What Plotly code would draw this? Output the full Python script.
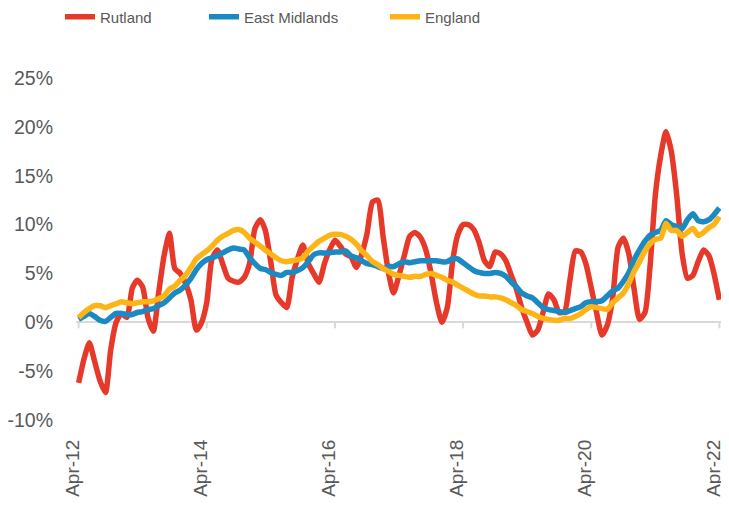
import pandas as pd
import plotly.graph_objects as go

# Monthly annual % change, Apr-2012 .. Apr-2022
months = pd.date_range("2012-04-01", periods=121, freq="MS")

rutland = [
    -6.2, -3.8, -2.1, -4.0, -6.0, -7.2, -2.8, 0.0, 0.9, 0.5,
    3.5, 4.3, 3.6, 0.5, -0.9, 3.0, 6.8, 9.1, 5.5, 5.0,
    4.0, 2.3, -0.8, -0.1, 2.0, 6.5, 7.4, 6.0, 4.5, 4.2,
    4.1, 4.6, 6.0, 9.6, 10.5, 9.4, 6.2, 2.8, 2.0, 1.5,
    4.6, 6.5, 7.9, 6.0, 5.0, 4.1, 6.0, 7.4, 8.4, 7.8,
    7.0, 6.7, 5.6, 7.0, 9.1, 12.3, 12.5, 8.7, 5.0, 3.0,
    4.8, 6.8, 8.8, 9.2, 8.7, 7.4, 5.0, 2.0, 0.0, 1.5,
    6.3, 8.9, 10.0, 10.0, 9.5, 8.2, 6.3, 5.7, 7.2, 7.0,
    6.3, 4.8, 3.3, 1.5, 0.0, -1.3, -0.8, 1.0, 2.9, 2.3,
    1.0, 1.1, 4.3, 7.3, 7.2, 6.0, 3.5, 1.0, -1.3, -0.3,
    2.5, 7.7, 8.6, 7.0, 3.4, 0.3, 1.0, 5.5, 13.0, 17.0,
    19.5, 17.5, 13.0, 7.0, 4.5, 4.8, 6.2, 7.4, 6.8, 5.0,
    2.3,
]

east_midlands = [
    0.3, 0.6, 0.9, 0.6, 0.2, 0.1, 0.5, 0.9, 0.9, 0.8,
    0.8, 1.0, 1.1, 1.3, 1.4, 1.7, 2.0, 2.5, 3.0, 3.3,
    3.8, 4.5, 5.4, 6.0, 6.4, 6.6, 6.8, 7.1, 7.4, 7.6,
    7.5, 7.4, 6.6, 6.0, 5.5, 5.4, 5.1, 4.9, 4.8, 5.1,
    5.1, 5.3, 5.6, 6.2, 6.9, 7.1, 7.1, 7.1, 7.2, 7.2,
    7.3, 6.8, 6.6, 6.3, 6.0, 5.9, 5.7, 5.5, 5.7, 5.7,
    6.0, 6.2, 6.1, 6.2, 6.3, 6.3, 6.3, 6.3, 6.2, 6.2,
    6.5, 6.5, 6.1, 5.7, 5.3, 5.1, 5.0, 5.0, 5.1, 5.0,
    4.7, 4.1, 3.6, 3.0, 2.7, 2.5, 2.0, 1.5, 1.3, 1.2,
    1.1, 1.0, 1.2, 1.4, 1.6, 2.0, 2.1, 2.1, 2.2, 2.7,
    3.2, 3.5, 4.2, 5.1, 6.4, 7.4, 8.3, 8.9, 9.2, 9.4,
    10.4, 10.0, 9.8, 9.6, 10.5, 11.1, 10.4, 10.3, 10.5, 11.0,
    11.7,
]

england = [
    0.5, 1.0, 1.4, 1.7, 1.7, 1.5, 1.7, 1.9, 2.1, 2.0,
    1.9, 2.0, 2.1, 2.1, 2.2, 2.4, 2.7, 3.4, 3.7, 4.3,
    4.8, 5.6, 6.5, 6.9, 7.3, 7.8, 8.4, 8.8, 9.1, 9.4,
    9.5, 9.2, 8.6, 8.2, 7.8, 7.4, 7.0, 6.6, 6.3, 6.2,
    6.3, 6.4, 6.6, 7.3, 7.8, 8.3, 8.6, 8.9, 9.0, 9.0,
    8.8, 8.5, 8.0, 7.3, 6.8, 6.2, 5.9, 5.5, 5.2, 4.9,
    4.8, 4.7, 4.6, 4.7, 4.7, 4.9, 5.0, 4.8, 4.6, 4.3,
    4.1, 3.8, 3.5, 3.2, 2.9, 2.7, 2.7, 2.6, 2.6, 2.5,
    2.3, 2.0, 1.7, 1.3, 1.1, 0.9, 0.6, 0.4, 0.3, 0.2,
    0.2, 0.4, 0.4, 0.6, 0.9, 1.3, 1.6, 1.5, 1.4, 1.3,
    2.0, 2.5, 3.0, 4.0, 5.2, 6.2, 7.3, 8.0, 8.5, 8.6,
    10.1, 9.4, 9.4, 8.8, 9.2, 9.6, 8.9, 9.2, 9.7, 10.0,
    10.8,
]

series_names = ["Rutland", "East Midlands", "England"]
series_colors = ["#E6392A", "#1C8AC2", "#FDB416"]
tick_dates = pd.date_range("2012-04-01", "2022-04-01", freq="24MS")
y_ticks = [-10, -5, 0, 5, 10, 15, 20, 25]

GRAY = "#595959"
AXIS_FONT_Y = dict(family="Liberation Sans, Arial, sans-serif", size=19.5, color=GRAY)
AXIS_FONT_X = dict(family="Liberation Sans, Arial, sans-serif", size=19, color=GRAY)
LEG_FONT = dict(family="Liberation Sans Narrow, Arial Narrow, Liberation Sans, sans-serif",
                size=15, color=GRAY)

# the page body adds an 8px offset; figure is sized to fill the rest of the window
FIG_W, FIG_H = 721, 498

fig = go.Figure()
legend_ids = ["legend", "legend2", "legend3"]
for name, vals, col, lg in zip(series_names, [rutland, east_midlands, england], series_colors, legend_ids):
    fig.add_trace(go.Scatter(
        x=months, y=vals, name=name, mode="lines",
        line=dict(color=col, width=5.5, shape="spline", smoothing=0.6),
        legend=lg,
    ))

# small tick marks on the zero line
for d in tick_dates:
    fig.add_shape(type="line", xref="x", yref="y", x0=d, x1=d,
                  ysizemode="pixel", yanchor=0, y0=0, y1=-6,
                  line=dict(color="#D9D9D9", width=2), layer="below")

legend_x_px = [52, 196, 377]
common_leg = dict(orientation="h", xref="container", yref="container",
                  xanchor="left", yanchor="middle", y=1 - 9 / FIG_H,
                  font=LEG_FONT, bgcolor="rgba(0,0,0,0)", borderwidth=0)
fig.update_layout(
    width=FIG_W, height=FIG_H,
    margin=dict(l=68, r=7, t=70, b=86, autoexpand=False),
    paper_bgcolor="white", plot_bgcolor="white",
    showlegend=True,
    legend=dict(x=legend_x_px[0] / FIG_W, **common_leg),
    legend2=dict(x=legend_x_px[1] / FIG_W, **common_leg),
    legend3=dict(x=legend_x_px[2] / FIG_W, **common_leg),
    xaxis=dict(
        type="date", range=["2012-03-17", "2022-04-16"],
        tickmode="array", tickvals=list(tick_dates),
        ticktext=[d.strftime("%b-%y") for d in tick_dates],
        tickangle=-90, tickfont=AXIS_FONT_X, showgrid=False, showline=False,
        zeroline=False, ticks="", ticklabelstandoff=15, ticklabelshift=-6,
        automargin=False, ticklabeloverflow="allow",
    ),
    yaxis=dict(
        range=[-10, 25], tickmode="array", tickvals=y_ticks,
        ticktext=[f"{v}%" for v in y_ticks], tickfont=AXIS_FONT_Y,
        showgrid=False, showline=False, ticks="",
        zeroline=True, zerolinecolor="#D9D9D9", zerolinewidth=2,
        ticklabelstandoff=22, automargin=False,
    ),
)

fig.write_html("out.html")
